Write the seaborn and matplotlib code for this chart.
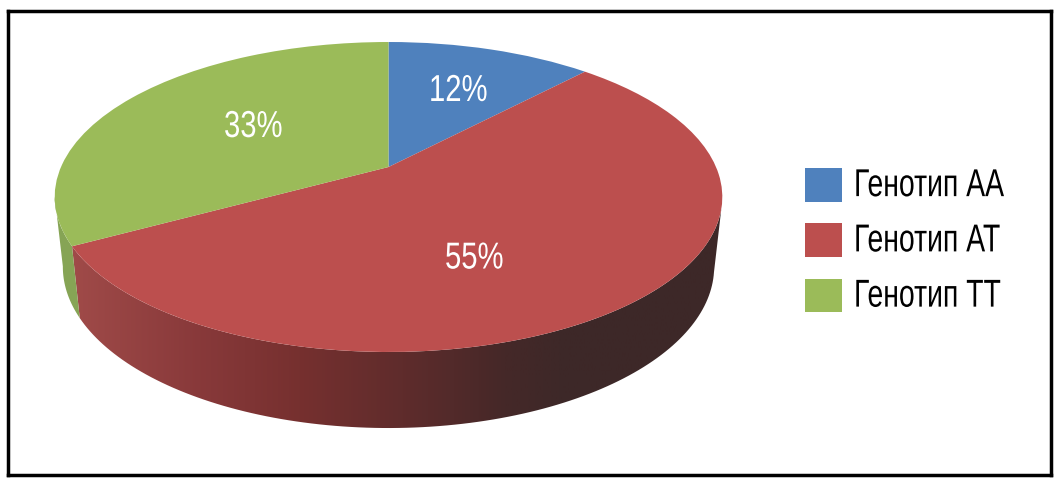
import numpy as np
import seaborn as sns
import matplotlib
matplotlib.use("Agg")
import matplotlib.pyplot as plt
from matplotlib.colors import LinearSegmentedColormap
from matplotlib.patches import Polygon
from matplotlib.patheffects import AbstractPathEffect
from matplotlib.transforms import Affine2D, Transform

labels = ["Генотип АА", "Генотип АТ", "Генотип ТТ"]
values = [12, 55, 33]
colors = ["#4F81BD", "#BC4F4E", "#9BBB59"]

W, H = 1059, 482
CX = 388.5
TOP = (327.5, -116.87, 167, 0.1935)   # top disc perspective
LOW = (319.5, -109.6, 235.6, 0.1935)  # bottom disc perspective


def project(u, v, p):
    A, a, b, c = p
    d = c * v + 1
    return CX + A * u / d, (a * v + b) / d


class Perspective(Transform):
    input_dims = output_dims = 2
    is_separable = False

    def __init__(self, p):
        super().__init__()
        self.p = p

    def transform_non_affine(self, xy):
        xy = np.asarray(xy)
        x, y = project(xy[:, 0], xy[:, 1], self.p)
        return np.column_stack([x, y])


# no condensed font installed, so squeeze the glyphs sideways
class Squeeze(AbstractPathEffect):
    def __init__(self, sx, dy=0):
        super().__init__()
        self.sx = sx
        self.dy = dy

    def draw_path(self, renderer, gc, tpath, affine, rgbFace=None):
        tr = Affine2D().scale(self.sx, 1) + affine + Affine2D().translate(0, self.dy)
        renderer.draw_path(gc, tpath, tr, rgbFace)


def wall(t1, t2):
    t = np.radians(np.linspace(t1, t2, 120))
    u, v = np.cos(t), np.sin(t)
    up = np.column_stack(project(u, v, TOP))
    lo = np.column_stack(project(u, v, LOW))
    return np.vstack([up, lo[::-1]])


sns.set_theme(style="white")
plt.rcParams["font.family"] = ["Liberation Sans", "DejaVu Sans"]

fig = plt.figure(figsize=(W / 100, H / 100), dpi=100)
ax = fig.add_axes([7.5 / W, 1 - 474.5 / H, (1051 - 7.5) / W, (474.5 - 10.5) / H])

wedges, _, pct = ax.pie(values, colors=sns.color_palette(colors), startangle=90, counterclock=False,
                        autopct="%.0f%%", wedgeprops=dict(linewidth=0),
                        textprops=dict(color="white", fontsize=27))

leg = ax.legend(wedges, labels, loc="upper left", bbox_to_anchor=(805, 168), bbox_transform=None,
                frameon=False, fontsize=28, borderpad=0, borderaxespad=0,
                handlelength=0.95, handleheight=0.95, handletextpad=0.31, labelspacing=0.44,
                labelcolor="black")

ax.set_aspect("auto")
ax.set_frame_on(True)
ax.set_xlim(7.5, 1051)
ax.set_ylim(474.5, 10.5)
leg.set_bbox_to_anchor((805, 168), transform=ax.transData)
for s in ax.spines.values():
    s.set_visible(True)
    s.set_color("black")
    s.set_linewidth(2.5)

for w in wedges:
    w.set_transform(Perspective(TOP) + ax.transData)
    w.set_zorder(5)

for t in leg.get_texts():
    t.set_path_effects([Squeeze(0.73, dy=2)])

# percent labels, left edge of each
for t, pos in zip(pct, [(429, 91), (445, 258.5), (224, 127)]):
    t.set_position(pos)
    t.set_ha("left")
    t.set_zorder(6)
    t.set_path_effects([Squeeze(0.78)])

# side wall, red part has a left to right gradient
grad = LinearSegmentedColormap.from_list("wall", [(0, "#A24C4A"), (0.21, "#88393A"), (0.36, "#76302F"),
                                                  (0.515, "#5F2C2C"), (0.67, "#452828"), (0.75, "#3E2828"),
                                                  (1, "#3D2828")])
red = wedges[1]
poly = Polygon(wall(red.theta1, -13), closed=True, facecolor="none", edgecolor="none",
               transform=ax.transData)
ax.add_patch(poly)
im = ax.imshow(np.linspace(0, 1, 256)[None, :], cmap=grad, extent=(60, 725, 474, 10), aspect="auto", zorder=2)
im.set_clip_path(poly)

green = wedges[2]
ax.add_patch(Polygon(wall(-169, green.theta2), closed=True, facecolor="#86A455", edgecolor="none", zorder=2))

ax.set_aspect("auto")
ax.set_xlim(7.5, 1051)
ax.set_ylim(474.5, 10.5)

fig.savefig("out.png", dpi=100)
